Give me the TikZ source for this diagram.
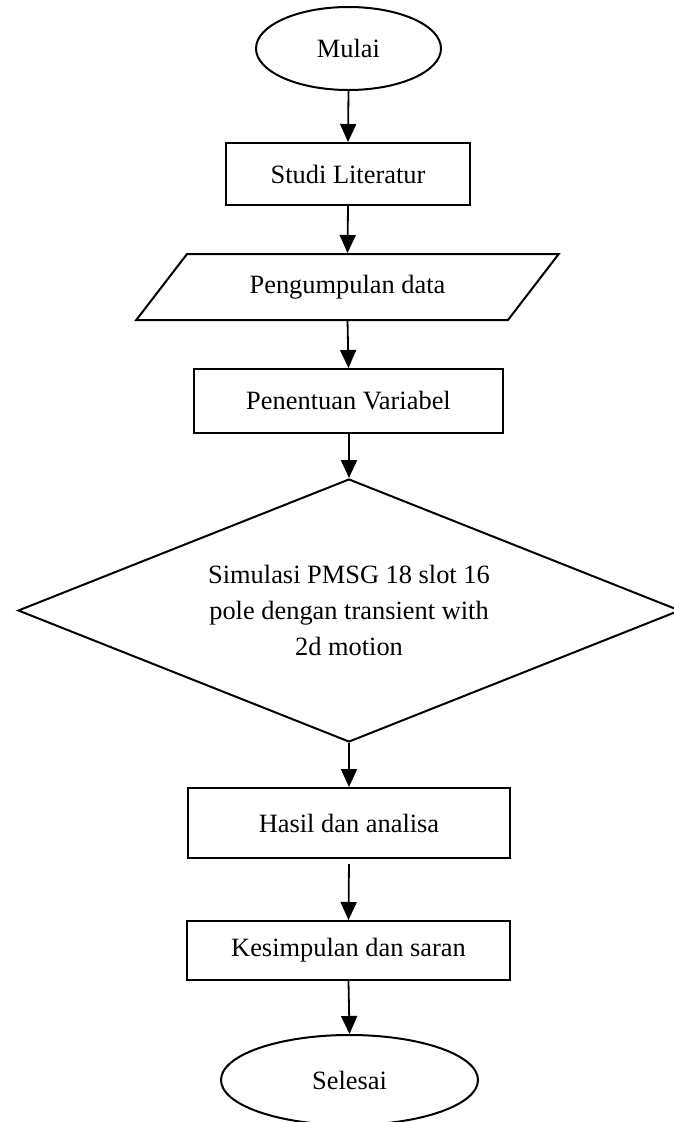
\documentclass[tikz,border=0pt]{standalone}
\usepackage{fontspec}
\setmainfont{Liberation Serif}
\usetikzlibrary{shapes.geometric,arrows.meta}
\begin{document}
\begin{tikzpicture}[x=1pt,y=-1pt,
  every node/.style={font=\fontsize{26.4}{36}\selectfont, line width=2pt, inner sep=0pt},
  box/.style={draw, rectangle},
  term/.style={draw, ellipse},
  io/.style={draw, trapezium, trapezium left angle=37.8, trapezium right angle=142.2, trapezium stretches=true},
  decision/.style={draw, diamond, aspect=2.5, align=center},
  arr/.style={line width=1.8pt, -{Triangle[width=16pt,length=18pt]}}]
\useasboundingbox (0,0) rectangle (673,1122);
\node[term, minimum width=185pt, minimum height=83pt] (mulai) at (348.5,48.5) {Mulai};
\node[box, minimum width=244pt, minimum height=62pt] (studi) at (348,174) {Studi Literatur};
\node[io, minimum width=423pt, minimum height=66pt] (data) at (347.5,287) {Pengumpulan data};
\node[box, minimum width=309pt, minimum height=64pt] (var) at (348.5,401) {Penentuan Variabel};
\node[decision, minimum width=662pt, minimum height=263pt] (sim) at (349,610.5) {Simulasi PMSG 18 slot 16\\pole dengan transient with\\2d motion};
\node[box, minimum width=322pt, minimum height=70pt] (hasil) at (349,823) {Hasil dan analisa};
\node[box, minimum width=323pt, minimum height=59pt] (kes) at (348.5,950.5) {Kesimpulan dan saran};
\node[term, minimum width=257pt, minimum height=90pt] (sel) at (349.5,1080) {Selesai};
\draw[arr] (mulai.south) -- (studi.north);
\draw[arr] (studi.south) -- (data.north);
\draw[arr] (data.south) -- (var.north);
\draw[arr] (sim.north |- var.south) -- (sim.north);
\draw[arr] (sim.south) -- (hasil.north);
\draw[arr, shorten <=5pt] (hasil.south) -- (kes.north);
\draw[arr] (kes.south) -- (sel.north);
\end{tikzpicture}
\end{document}
